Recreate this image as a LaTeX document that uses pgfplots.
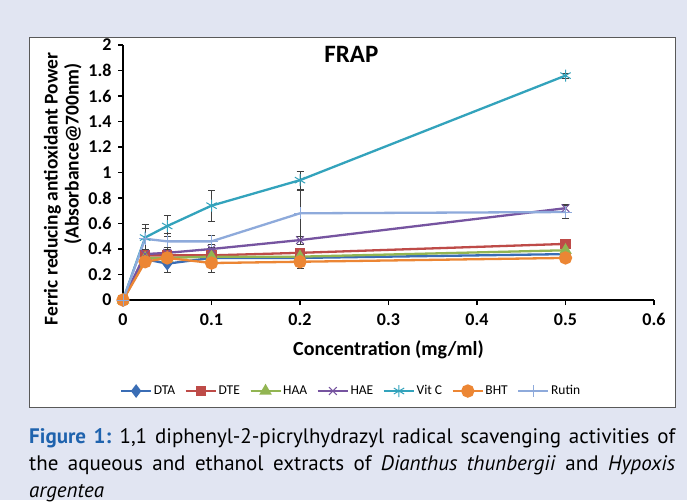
\documentclass[border=0pt]{standalone}
\usepackage{pgfplots}
\pgfplotsset{compat=1.18}
\usepackage{fontspec}
\setmainfont{Carlito}
\newfontfamily\capfont{PT Sans}

\definecolor{bgpage}{HTML}{E1E5F2}
\definecolor{capblue}{HTML}{1F63AE}
\definecolor{cDTA}{HTML}{3A6DB5}
\definecolor{cDTE}{HTML}{BE4B48}
\definecolor{cHAA}{HTML}{92B552}
\definecolor{cHAE}{HTML}{7654A0}
\definecolor{cVIT}{HTML}{33A3BC}
\definecolor{cBHT}{HTML}{EC8634}
\definecolor{cRUT}{HTML}{8EAADB}

\begin{document}
\begin{tikzpicture}
% page and frame
\fill[bgpage] (0pt,0pt) rectangle (687pt,-500pt);
\draw[gray!70!black, fill=white, line width=0.8pt] (29pt,-37pt) rectangle (675pt,-407pt);

\begin{axis}[
    at={(123pt,-300pt)}, anchor=south west,
    scale only axis,
    width=531pt, height=255pt,
    xmin=0, xmax=0.6, ymin=0, ymax=2,
    axis x line*=bottom, axis y line*=left,
    axis line style={black, line width=1.6pt},
    xtick={0,0.1,...,0.6}, ytick={0,0.2,...,2},
    xticklabels={0,0.1,0.2,0.3,0.4,0.5,0.6},
    yticklabels={0,0.2,0.4,0.6,0.8,1,1.2,1.4,1.6,1.8,2},
    tick align=outside, major tick length=5pt,
    tick style={black, line width=1.4pt},
    ticklabel style={font=\fontsize{18}{18}\selectfont\bfseries},
    xticklabel style={yshift=-5pt},
    yticklabel style={xshift=-3pt},
    xlabel={Concentration (mg/ml)},
    xlabel style={font=\fontsize{20}{20}\selectfont\bfseries, yshift=-8pt},
    ylabel={Ferric reducing antioxidant Power\\\hspace*{70pt}(Absorbance@700nm)},
    ylabel style={font=\fontsize{19.5}{21}\selectfont\bfseries, align=center,
        at={(ticklabel cs:0.435)}},
    title={FRAP},
    title style={font=\fontsize{25}{25}\selectfont\bfseries, at={(0.43,0.985)}, anchor=north},
    legend columns=7,
    legend style={draw=none, fill=none, at={(0.429,-0.357)}, anchor=center,
        font=\fontsize{13.5}{13.5}\selectfont,
        nodes={inner xsep=1.5pt},
        /tikz/every even column/.append style={column sep=8pt}},
    legend image code/.code={\draw[#1] (0pt,0pt) -- (30pt,0pt); \draw[#1, mark repeat=2, mark phase=2] plot coordinates {(0pt,0pt) (15pt,0pt) (30pt,0pt)};},
    every axis plot/.append style={line width=2.3pt, mark size=4pt,
        error bars/error bar style={black!75, line width=0.8pt},
        error bars/error mark options={black!75, rotate=90, mark size=3.5pt, line width=0.8pt}},
    clip=false,
]
\addplot[cDTA, mark=diamond*, mark size=5pt, error bars/.cd, y dir=both, y explicit] coordinates {
    (0,0) +- (0,0.01) (0.025,0.32) +- (0,0.03) (0.05,0.285) +- (0,0.07)
    (0.1,0.33) +- (0,0.03) (0.2,0.33) +- (0,0.02) (0.5,0.36) +- (0,0.02)};
\addlegendentry{DTA}
\addplot[cDTE, mark=square*, error bars/.cd, y dir=both, y explicit] coordinates {
    (0,0) +- (0,0.01) (0.025,0.35) +- (0,0.03) (0.05,0.35) +- (0,0.03)
    (0.1,0.35) +- (0,0.03) (0.2,0.37) +- (0,0.02) (0.5,0.44) +- (0,0.02)};
\addlegendentry{DTE}
\addplot[cHAA, mark=triangle*, mark size=5pt, error bars/.cd, y dir=both, y explicit] coordinates {
    (0,0) +- (0,0.01) (0.025,0.33) +- (0,0.03) (0.05,0.33) +- (0,0.03)
    (0.1,0.34) +- (0,0.03) (0.2,0.34) +- (0,0.02) (0.5,0.39) +- (0,0.02)};
\addlegendentry{HAA}
\addplot[cHAE, mark=x, mark size=5.5pt, mark options={line width=1pt}, error bars/.cd, y dir=both, y explicit] coordinates {
    (0,0) +- (0,0.01) (0.025,0.36) +- (0,0.04) (0.05,0.37) +- (0,0.04)
    (0.1,0.40) +- (0,0.04) (0.2,0.47) +- (0,0.03) (0.5,0.72) +- (0,0.03)};
\addlegendentry{HAE}
\addplot[cVIT, mark=asterisk, mark size=6pt, mark options={line width=1pt}, error bars/.cd, y dir=both, y explicit] coordinates {
    (0,0) +- (0,0.01) (0.025,0.49) +- (0,0.10) (0.05,0.58) +- (0,0.08)
    (0.1,0.74) +- (0,0.12) (0.2,0.94) +- (0,0.07) (0.5,1.76) +- (0,0.02)};
\addlegendentry{Vit C}
\addplot[cBHT, mark=*, mark size=5.5pt, error bars/.cd, y dir=both, y explicit] coordinates {
    (0,0) +- (0,0.01) (0.025,0.30) +- (0,0.03) (0.05,0.33) +- (0,0.03)
    (0.1,0.29) +- (0,0.07) (0.2,0.30) +- (0,0.05) (0.5,0.33) +- (0,0.02)};
\addlegendentry{BHT}
\addplot[cRUT, mark=+, mark size=6pt, mark options={line width=1pt}, error bars/.cd, y dir=both, y explicit] coordinates {
    (0,0) +- (0,0.01) (0.025,0.48) +- (0,0.08) (0.05,0.46) +- (0,0.06)
    (0.1,0.46) +- (0,0.05) (0.2,0.68) +- (0,0.18) (0.5,0.69) +- (0,0.05)};
\addlegendentry{Rutin}
\end{axis}

% caption
\node[anchor=north west, text width=646pt, align=justify, inner sep=0pt,
      font=\capfont\fontsize{21}{27}\selectfont] at (29pt,-428pt)
  {{\color{capblue}\bfseries Figure~1:}\hspace{0.4em}1,1 diphenyl-2-picrylhydrazyl radical scavenging activities of\linebreak
   the aqueous and ethanol extracts of \textit{Dianthus thunbergii} and \textit{Hypoxis}\linebreak
   \textit{argentea}};
\end{tikzpicture}
\end{document}
